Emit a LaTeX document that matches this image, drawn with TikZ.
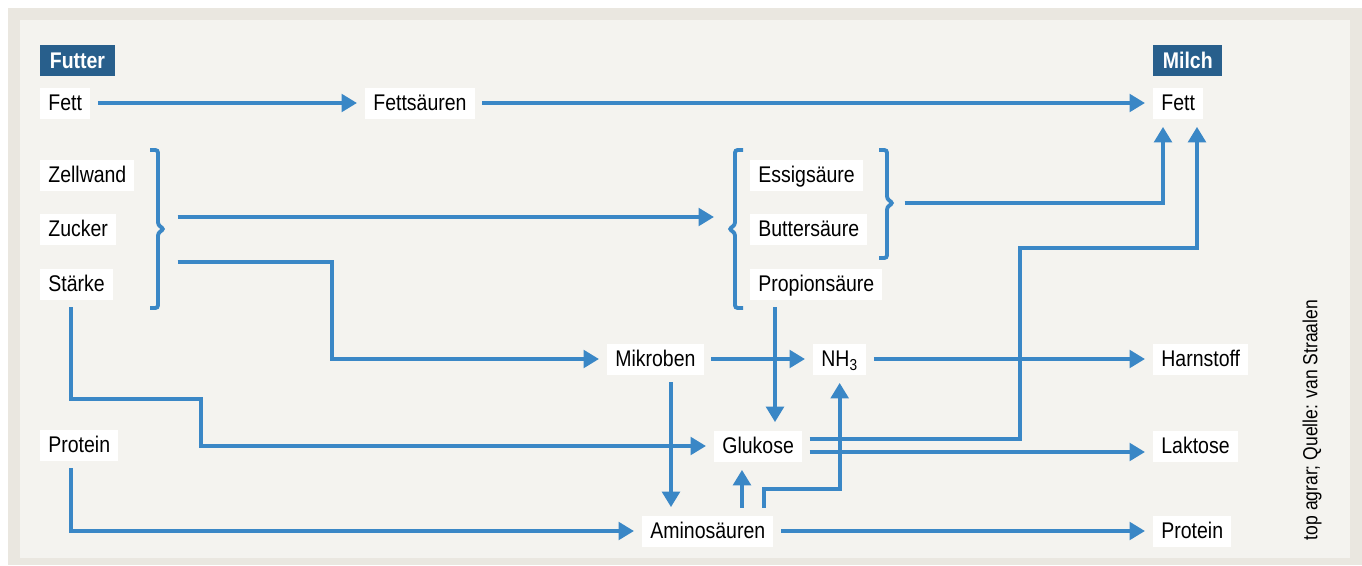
\documentclass[tikz,border=0pt]{standalone}
\usepackage{fontspec}
\setmainfont{Liberation Sans}[FakeStretch=0.86]
\usetikzlibrary{positioning,arrows.meta}

\definecolor{flowblue}{HTML}{3A87C6}
\definecolor{headblue}{HTML}{285F8C}
\definecolor{panel}{HTML}{F4F3EF}
\definecolor{frame}{HTML}{EAE7E0}

\begin{document}
\begin{tikzpicture}[
  x=0.02cm, y=-0.02cm,
  item/.style={rectangle, fill=white, anchor=west, minimum height=0.62cm, inner xsep=0.16cm, inner ysep=0pt,
               text height=10.4pt, text depth=1.4pt, font=\fontsize{12.9pt}{15pt}\selectfont},
  head/.style={item, fill=headblue, text=white, inner xsep=0.19cm,
               font=\fontsize{12.9pt}{15pt}\selectfont\bfseries},
  arr/.style={-{Triangle[length=0.31cm, width=0.35cm]}, line width=2.2pt, draw=flowblue,
              shorten <=0.15cm, shorten >=0.16cm},
  brace/.style={line width=2.2pt, draw=flowblue, rounded corners=1.5pt},
]
  % Background
  \fill[white] (0,0) rectangle (1362,565);
  \fill[frame] (8,8) rectangle (1362,565);
  \fill[panel] (20,20) rectangle (1350,558);
  \useasboundingbox (0,0) rectangle (1362,565);

  % Row 1: Fat
  \node[item] (fettL) at (40,103) {Fett};
  \node[head, above right=0.22cm and 0cm of fettL.north west] (futter) {Futter};
  \node[item] (fettS) at (365,103) {Fettsäuren};
  \node[item] (fettR) at (1153,103) {Fett};
  \node[head, above right=0.22cm and 0cm of fettR.north west] (milch) {Milch};

  % Carbohydrates
  \node[item] (zellwand) at (40,175) {Zellwand};
  \node[item] (zucker) at (40,229) {Zucker};
  \node[item] (staerke) at (40,284) {Stärke};

  % Fatty acids
  \node[item] (essig) at (750,175) {Essigsäure};
  \node[item] (butter) at (750,229) {Buttersäure};
  \node[item] (propion) at (750,284) {Propionsäure};

  % Rumen and metabolism
  \node[item] (mikroben) at (607,359) {Mikroben};
  \node[item] (nh3) at (813,359) {NH\textsubscript{3}};
  \node[item] (harnstoff) at (1153,359) {Harnstoff};
  \node[item] (proteinL) at (40,445) {Protein};
  \node[item] (glukose) at (714,446) {Glukose};
  \node[item] (laktose) at (1153,446) {Laktose};
  \node[item] (amino) at (642,531) {Aminosäuren};
  \node[item] (proteinR) at (1153,531) {Protein};

  % Source
  \node[rotate=90, font=\fontsize{11.6pt}{13pt}\selectfont] (quelle) at (1312,420) {top agrar; Quelle: van Straalen};

  % Braces
  \draw[brace] (150,150) -- (158,150) -- (158,225) -- (164,229) -- (158,233) -- (158,308) -- (150,308);
  \draw[brace] (743,150) -- (735,150) -- (735,225) -- (729,229) -- (735,233) -- (735,308) -- (743,308);
  \draw[brace] (879,150) -- (887,150) -- (887,199) -- (893,203) -- (887,207) -- (887,258) -- (879,258);

  % Connector ends
  \coordinate (carbA) at (170,217);
  \coordinate (carbB) at (170,262);
  \coordinate (acidsIn) at (722,229);
  \coordinate (acidsOut) at (897,203);
  \coordinate (bendA) at (201,399);
  \coordinate (bendB) at (1020,248);
  \coordinate (staerkeDown) at ([xshift=0.62cm]staerke.south west);
  \coordinate (proteinDown) at ([xshift=0.62cm]proteinL.south west);
  \coordinate (propDown) at ([xshift=0.5cm]propion.south west);
  \coordinate (mikDown) at ([xshift=1.28cm]mikroben.south west);
  \coordinate (aminoUp) at ([xshift=2cm]amino.north west);
  \coordinate (aminoNH) at ([xshift=2.44cm]amino.north west);
  \coordinate (glukHigh) at ([yshift=0.14cm]glukose.east);
  \coordinate (glukLow) at ([yshift=-0.12cm]glukose.east);
  \coordinate (milkA) at ([xshift=0.2cm]fettR.south west);
  \coordinate (milkB) at ([xshift=0.88cm]fettR.south west);

  % Arrows
  \draw[arr] (fettL) -- (fettS);
  \draw[arr] (fettS) -- (fettR);
  \draw[arr] (carbA) -- (carbA -| acidsIn);
  \draw[arr] (carbB) -- ++(162,0) |- (mikroben.west);
  \draw[arr] (staerkeDown) |- (bendA) |- (glukose.west);
  \draw[arr] (propDown) -- (propDown |- glukose.north);
  \draw[arr] (mikroben) -- (nh3);
  \draw[arr] (nh3) -- (harnstoff);
  \draw[arr] (mikDown) -- (mikDown |- amino.north);
  \draw[arr] (aminoUp) -- (aminoUp |- glukose.south);
  \draw[arr] (aminoNH) -- ++(0,-26) -| (nh3.south);
  \draw[arr] (proteinDown) |- (amino.west);
  \draw[arr] (amino) -- (proteinR);
  \draw[arr] (glukLow) -- (glukLow -| laktose.west);
  \draw[arr] (glukHigh) -| (bendB) -| (milkB);
  \draw[arr] (acidsOut) -| (milkA);
\end{tikzpicture}
\end{document}
